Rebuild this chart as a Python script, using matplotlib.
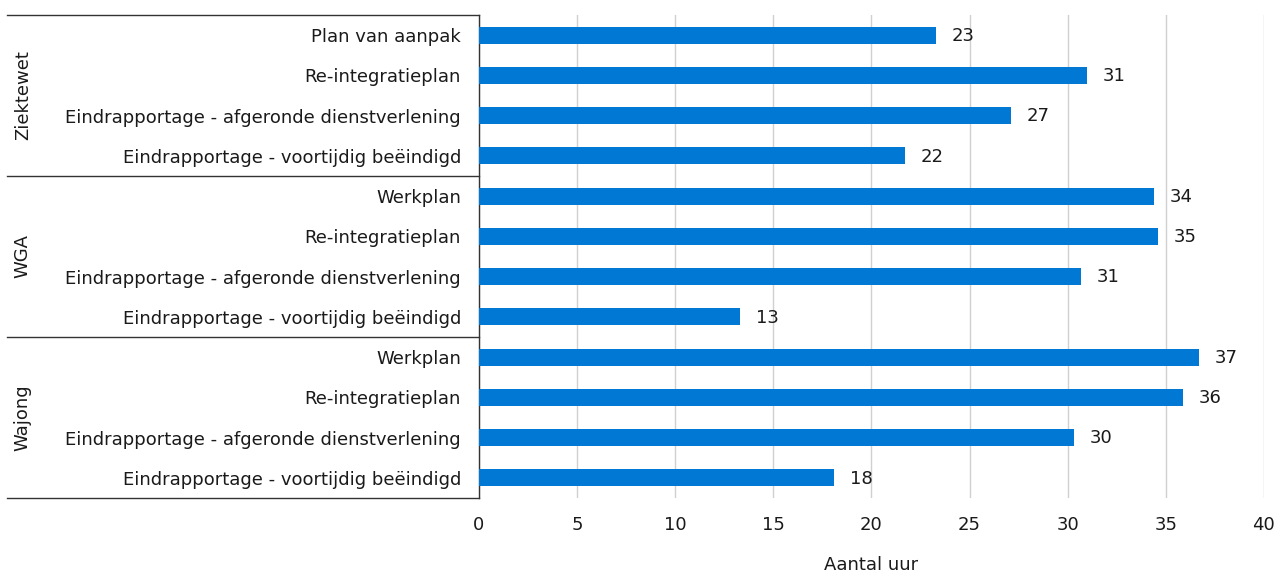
import matplotlib
matplotlib.use('Agg')
import matplotlib.pyplot as plt
import numpy as np

groups = ['Ziektewet', 'WGA', 'Wajong']
categories = [
    ['Plan van aanpak', 'Re-integratieplan',
     'Eindrapportage - afgeronde dienstverlening', 'Eindrapportage - voortijdig beëindigd'],
    ['Werkplan', 'Re-integratieplan',
     'Eindrapportage - afgeronde dienstverlening', 'Eindrapportage - voortijdig beëindigd'],
    ['Werkplan', 'Re-integratieplan',
     'Eindrapportage - afgeronde dienstverlening', 'Eindrapportage - voortijdig beëindigd'],
]
values = [
    [23.3, 31.0, 27.1, 21.7],
    [34.4, 34.6, 30.7, 13.3],
    [36.7, 35.9, 30.3, 18.1],
]

bar_color = '#0078d4'
text_color = '#1a1a1a'
plt.rcParams['font.family'] = 'DejaVu Sans'
fs = 13

fig = plt.figure(figsize=(12.83, 5.74), dpi=100)
ax = fig.add_axes([0.3733, 0.1324, 0.6118, 0.8415])

labels = [c for grp in categories for c in grp]
vals = [v for grp in values for v in grp]
ypos = np.arange(len(vals))

ax.barh(ypos, vals, height=0.42, color=bar_color, zorder=3)
for y, v in zip(ypos, vals):
    ax.text(v + 0.8, y + 0.02, '%d' % round(v), va='center', ha='left', fontsize=fs, color=text_color)

ax.set_ylim(len(vals) - 0.5, -0.5)
ax.set_xlim(0, 40)
ax.set_xticks(range(0, 41, 5))
ax.set_yticks(ypos)
ax.set_yticklabels(labels, fontsize=fs, color=text_color)
ax.tick_params(axis='both', length=0, labelsize=fs, colors=text_color)
ax.tick_params(axis='x', pad=13)
ax.tick_params(axis='y', pad=13)
ax.grid(axis='x', color='#d0d0d0', linewidth=1, zorder=0)

for s in ['top', 'right', 'bottom']:
    ax.spines[s].set_visible(False)
ax.spines['left'].set_color('#333333')
ax.spines['left'].set_linewidth(1)

ax.set_xlabel('Aantal uur', fontsize=fs, color=text_color, labelpad=16)

# group separators and group labels
trans = ax.get_yaxis_transform()
x_left = -0.601
for y in [-0.5, 3.5, 7.5, 11.5]:
    ax.plot([x_left, 0], [y, y], color='#333333', linewidth=1, transform=trans, clip_on=False)
for i, g in enumerate(groups):
    ax.text(-0.581, i * 4 + 1.5, g, rotation=90, va='center', ha='center',
            fontsize=fs, color=text_color, transform=trans)

plt.savefig('out.png', dpi=100)
